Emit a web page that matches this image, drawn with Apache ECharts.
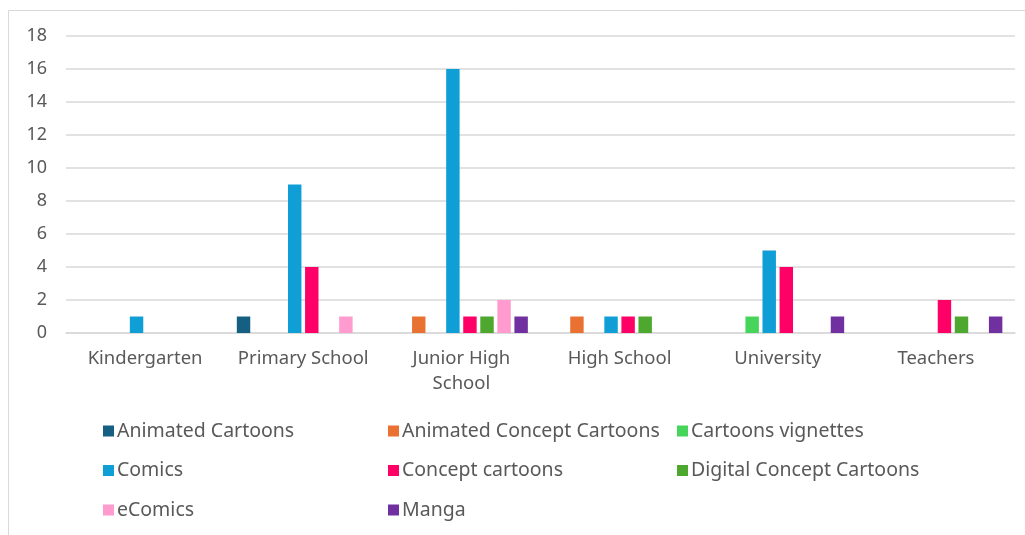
<!DOCTYPE html>
<html>
<head>
<meta charset="utf-8">
<script src="https://cdn.jsdelivr.net/npm/echarts@6/dist/echarts.min.js"></script>
<style>
  html, body { margin: 0; padding: 0; background: #fff; }
  #chart { width: 1025px; height: 535px; }
</style>
</head>
<body>
<div id="chart"></div>
<script>
// categories and series values
var categories = ['Kindergarten', 'Primary School', 'Junior High\nSchool', 'High School', 'University', 'Teachers'];
var animatedCartoons = [0, 1, 0, 0, 0, 0];
var animatedConcept = [0, 0, 1, 1, 0, 0];
var cartoonsVignettes = [0, 0, 0, 0, 1, 0];
var comics = [1, 9, 16, 1, 5, 0];
var conceptCartoons = [0, 4, 1, 1, 4, 2];
var digitalConcept = [0, 0, 1, 1, 0, 1];
var eComics = [0, 1, 2, 0, 0, 0];
var manga = [0, 0, 1, 0, 1, 1];

var seriesDefs = [
    {name: 'Animated Cartoons', data: animatedCartoons, color: '#156082'},
    {name: 'Animated Concept Cartoons', data: animatedConcept, color: '#E97132'},
    {name: 'Cartoons vignettes', data: cartoonsVignettes, color: '#47D45A'},
    {name: 'Comics', data: comics, color: '#0F9ED5'},
    {name: 'Concept cartoons', data: conceptCartoons, color: '#FF0066'},
    {name: 'Digital Concept Cartoons', data: digitalConcept, color: '#4EA72E'},
    {name: 'eComics', data: eComics, color: '#FF9BCF'},
    {name: 'Manga', data: manga, color: '#7030A0'},
];

var font = 'Noto Sans';
var textColor = '#595959';

var series = seriesDefs.map(function (s) {
    return {
        name: s.name,
        type: 'bar',
        data: s.data.map(function (v) { return v === 0 ? null : v; }),
        barGap: '27%',
        barCategoryGap: '16%',
        itemStyle: {color: s.color},
    };
});

function legendCol(left, names) {
    return {
        left: left,
        top: 416,
        orient: 'vertical',
        itemWidth: 11,
        itemHeight: 11,
        itemGap: 19.5,
        icon: 'rect',
        data: names,
        textStyle: {fontFamily: font, fontSize: 19.5, color: textColor, padding: [0, 0, 0, -2]},
        selectedMode: false,
    };
}

var option = {
    animation: false,
    textStyle: {fontFamily: font},
    graphic: [{
        type: 'rect',
        shape: {x: 8.5, y: 10.5, width: 1040, height: 560},
        style: {fill: 'none', stroke: '#d9d9d9', lineWidth: 1},
        silent: true,
    }],
    legend: [
        legendCol(98, ['Animated Cartoons', 'Comics', 'eComics']),
        legendCol(383, ['Animated Concept Cartoons', 'Concept cartoons', 'Manga']),
        legendCol(672, ['Cartoons vignettes', 'Digital Concept Cartoons']),
    ],
    grid: {left: 66, right: 10, top: 36, bottom: 202},
    xAxis: {
        type: 'category',
        data: categories,
        axisTick: {show: false},
        axisLine: {lineStyle: {color: '#d9d9d9', width: 1.5}},
        axisLabel: {
            interval: 0,
            color: textColor,
            fontSize: 18.5,
            fontFamily: font,
            margin: 13,
            lineHeight: 25,
        },
    },
    yAxis: {
        type: 'value',
        min: 0,
        max: 18,
        interval: 2,
        axisLine: {show: false},
        axisTick: {show: false},
        splitLine: {lineStyle: {color: '#d9d9d9', width: 1.5}},
        axisLabel: {color: textColor, fontSize: 18, fontFamily: font, margin: 19},
    },
    series: series,
};

var myChart = echarts.init(document.getElementById('chart'));
myChart.setOption(option);
window.addEventListener('resize', myChart.resize);
</script>
</body>
</html>
